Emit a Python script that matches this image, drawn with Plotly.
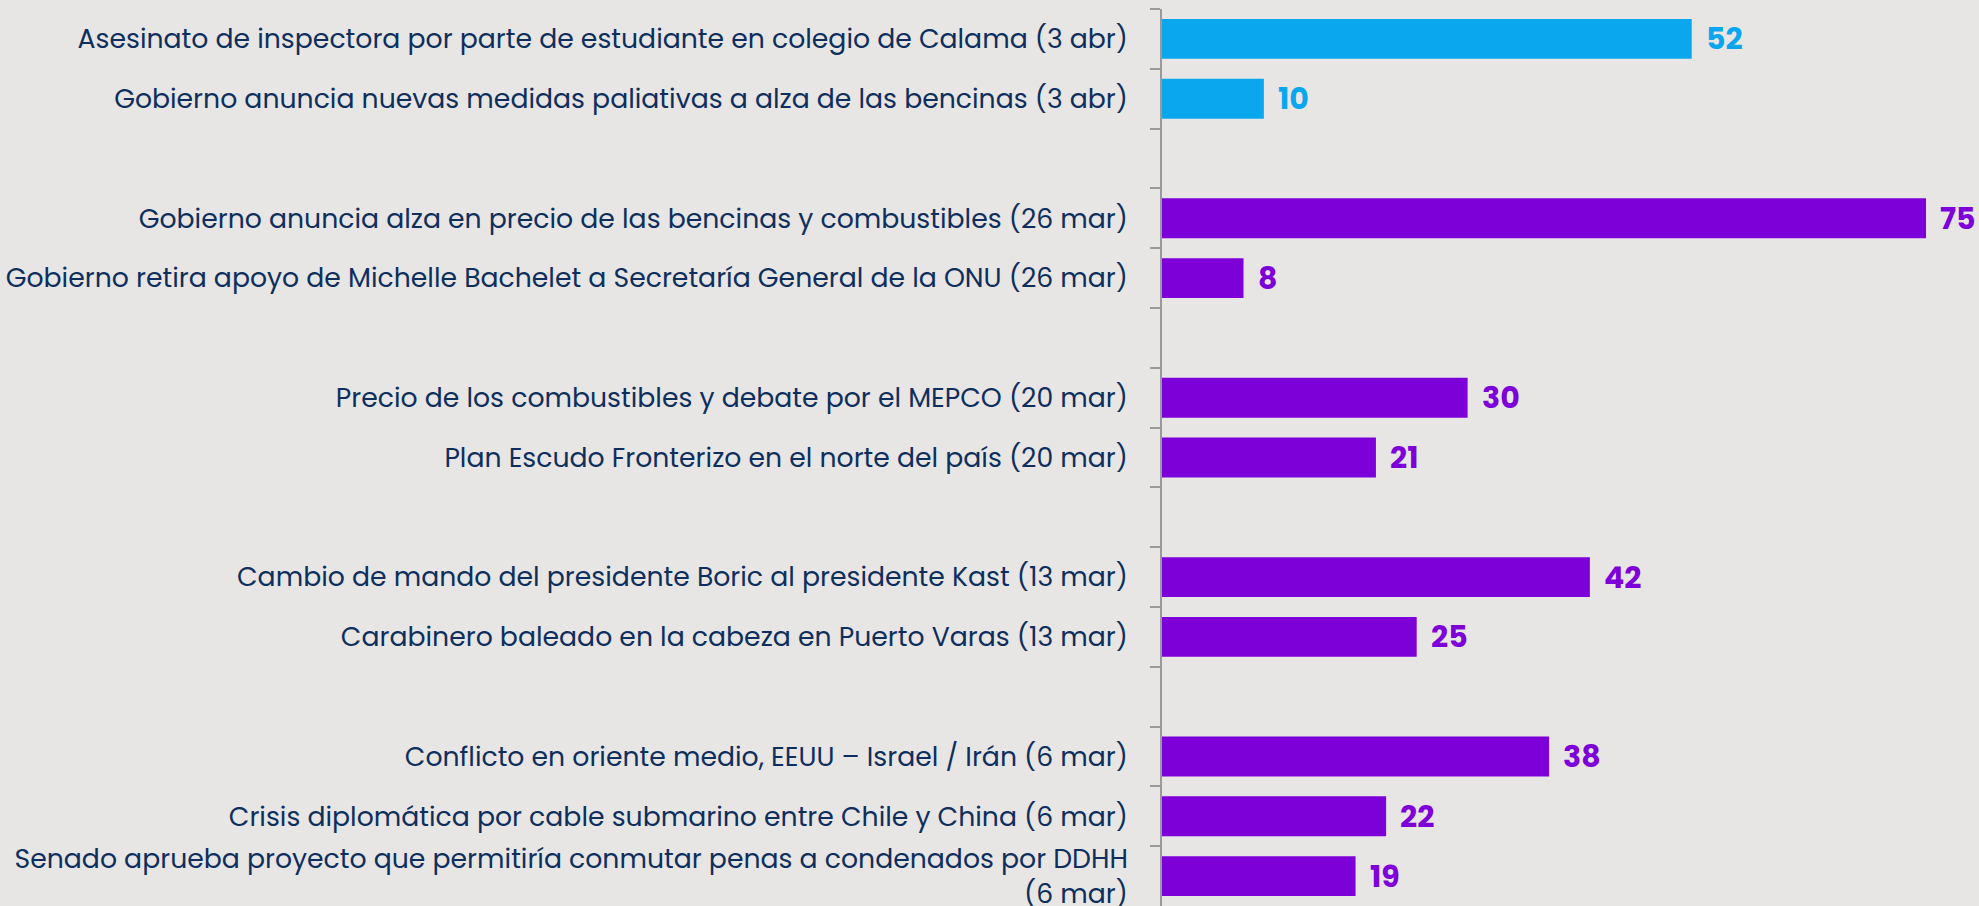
import plotly.graph_objects as go

# Data (top to bottom); empty strings mark the gaps between groups
categories = [
    "Asesinato de inspectora por parte de estudiante en colegio de Calama (3 abr)",
    "Gobierno anuncia nuevas medidas paliativas a alza de las bencinas (3 abr)",
    "Gobierno anuncia alza en precio de las bencinas y combustibles (26 mar)",
    "Gobierno retira apoyo de Michelle Bachelet a Secretaría General de la ONU (26 mar)",
    "Precio de los combustibles y debate por el MEPCO (20 mar)",
    "Plan Escudo Fronterizo en el norte del país (20 mar)",
    "Cambio de mando del presidente Boric al presidente Kast (13 mar)",
    "Carabinero baleado en la cabeza en Puerto Varas (13 mar)",
    "Conflicto en oriente medio, EEUU – Israel / Irán (6 mar)",
    "Crisis diplomática por cable submarino entre Chile y China (6 mar)",
    "Senado aprueba proyecto que permitiría conmutar penas a condenados por DDHH<br>(6 mar)",
]
values = [52, 10, 75, 8, 30, 21, 42, 25, 38, 22, 19]
groups = ["abr", "abr", "mar", "mar", "mar", "mar", "mar", "mar", "mar", "mar", "mar"]
gap_after = [1, 3, 5, 7]  # indices after which an empty row appears

CYAN = "#0AA7EE"
PURPLE = "#7E00D9"
NAVY = "#0E2F5E"
BG = "#E8E6E4"
GRID = "#9A9A9A"

# Build category order including blank gap rows
order = []
gap_n = 1
for i, c in enumerate(categories):
    order.append(c)
    if i in gap_after:
        order.append(" " * gap_n)
        gap_n += 1

colors = [CYAN if g == "abr" else PURPLE for g in groups]

fig = go.Figure()
fig.add_trace(go.Bar(
    x=values,
    y=categories,
    orientation="h",
    marker=dict(color=colors, line=dict(width=0)),
    width=0.667,
    hoverinfo="x+y",
))

for c, v, col in zip(categories, values, colors):
    fig.add_annotation(
        x=v, y=c, xref="x", yref="y",
        text=f"<b>{v}</b>",
        showarrow=False,
        xanchor="left", yanchor="middle",
        xshift=12,
        font=dict(family="Poppins, Open Sans, sans-serif", size=30, color=col),
    )

fig.update_layout(
    width=1979,
    height=906,
    margin=dict(l=1162, r=0, t=9, b=0, autoexpand=False),
    paper_bgcolor=BG,
    plot_bgcolor=BG,
    showlegend=False,
    bargap=0.333,
    font=dict(family="Poppins, Open Sans, sans-serif", color=NAVY),
)

fig.update_xaxes(
    range=[0, 80.2],
    visible=False,
    showgrid=False,
    zeroline=False,
    automargin=False,
)

fig.update_yaxes(
    type="category",
    categoryorder="array",
    categoryarray=order,
    autorange="reversed",
    automargin=False,
    showgrid=False,
    zeroline=False,
    showline=True,
    linecolor=GRID,
    linewidth=1.5,
    ticks="outside",
    tickson="boundaries",
    ticklen=10,
    tickwidth=1.5,
    tickcolor=GRID,
    ticklabelstandoff=27,
    tickfont=dict(family="Poppins, Open Sans, sans-serif", size=26.7, color=NAVY),
)

fig.write_html(
    "out.html",
    config={"displayModeBar": False},
    post_script="document.body.style.margin='0';document.body.style.overflow='hidden';",
)
